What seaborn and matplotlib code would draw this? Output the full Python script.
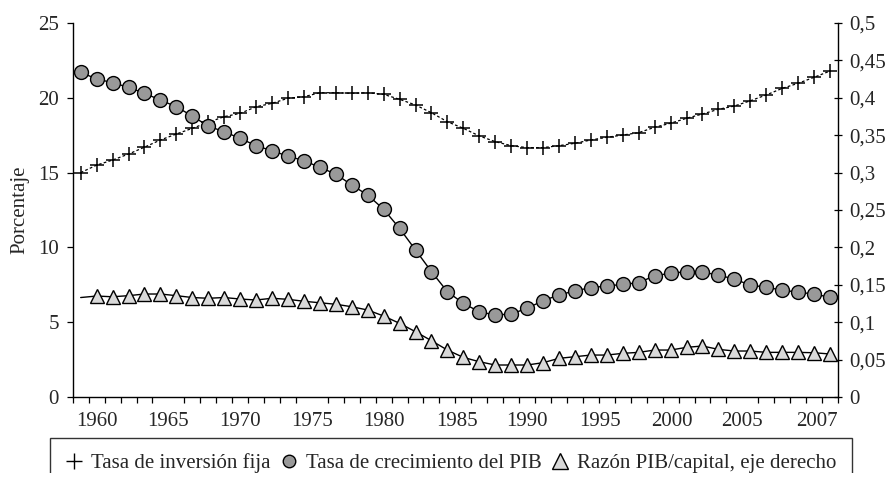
import numpy as np
import matplotlib
matplotlib.use("Agg")
import matplotlib.pyplot as plt
from matplotlib.lines import Line2D
from matplotlib.patches import Rectangle
import seaborn as sns

# Series (one value per category, 48 points)
inversion = [15.0, 15.5, 15.84, 16.24, 16.7, 17.18, 17.58, 17.96, 18.36, 18.74,
             18.96, 19.4, 19.63, 19.97, 20.07, 20.34, 20.34, 20.3, 20.34, 20.23,
             19.9, 19.52, 19.0, 18.4, 17.96, 17.45, 17.07, 16.8, 16.67, 16.67,
             16.8, 16.96, 17.18, 17.36, 17.51, 17.67, 18.03, 18.3, 18.63, 18.92,
             19.23, 19.45, 19.8, 20.19, 20.63, 20.97, 21.37, 21.79]
crecimiento = [21.7, 21.26, 21.01, 20.7, 20.3, 19.85, 19.4, 18.78, 18.11, 17.73,
               17.29, 16.8, 16.46, 16.1, 15.8, 15.35, 14.9, 14.17, 13.5, 12.55,
               11.27, 9.83, 8.38, 7.04, 6.26, 5.7, 5.48, 5.55, 5.93, 6.44,
               6.82, 7.1, 7.31, 7.42, 7.53, 7.64, 8.11, 8.27, 8.38, 8.34,
               8.16, 7.87, 7.49, 7.33, 7.15, 7.0, 6.89, 6.66]
razon = [0.133, 0.135, 0.134, 0.1355, 0.1377, 0.1377, 0.1355, 0.133, 0.132, 0.133,
         0.131, 0.1297, 0.132, 0.1306, 0.128, 0.126, 0.124, 0.1207, 0.1163, 0.1083,
         0.0985, 0.0873, 0.0753, 0.0628, 0.053, 0.0472, 0.0428, 0.0428, 0.0428, 0.0459,
         0.0517, 0.0539, 0.0561, 0.0561, 0.0584, 0.0597, 0.0628, 0.0628, 0.0664, 0.0682,
         0.0637, 0.0615, 0.0615, 0.0597, 0.0597, 0.0597, 0.0592, 0.0575]

year_labels = ["1960", "1965", "1970", "1975", "1980", "1985",
               "1990", "1995", "2000", "2005", "2007"]
label_pos = [1, 5.5, 10, 14.5, 19, 23.6, 28, 32.6, 37.1, 41.5, 46.2]

left_ticks = [0, 5, 10, 15, 20, 25]
right_ticks = [0, 0.05, 0.1, 0.15, 0.2, 0.25, 0.3, 0.35, 0.4, 0.45, 0.5]
right_labels = ["0", "0,05", "0,1", "0,15", "0,2", "0,25", "0,3", "0,35", "0,4", "0,45", "0,5"]

legend_labels = ["Tasa de inversión fija", "Tasa de crecimiento del PIB",
                 "Razón PIB/capital, eje derecho"]

sns.set_theme(style="ticks")
plt.rcParams["font.family"] = ["Liberation Serif", "DejaVu Serif"]
FS = 15

x = np.arange(len(inversion))

fig = plt.figure(figsize=(8.88, 4.82), dpi=100)
ax = fig.add_axes([0.0819, 0.1763, 0.8618, 0.776])
ax2 = ax.twinx()

circle_gray = "#999999"
tri_gray = "#d9d9d9"

sns.lineplot(x=x, y=inversion, ax=ax, color="black", linewidth=0.9,
             linestyle=(0, (2.2, 1.8)), marker="+", markersize=9.5,
             markeredgecolor="black", markeredgewidth=1.1)
sns.lineplot(x=x, y=crecimiento, ax=ax, color="black", linewidth=1.0,
             marker="o", markersize=10, markerfacecolor=circle_gray,
             markeredgecolor="black", markeredgewidth=1.0)
sns.lineplot(x=x, y=razon, ax=ax2, color="black", linewidth=1.0,
             marker="^", markersize=10, markerfacecolor=tri_gray,
             markeredgecolor="black", markeredgewidth=1.0,
             markevery=list(range(1, len(razon))))

ax.set_xlim(-0.5, len(inversion) - 0.5)
ax.set_ylim(0, 25)
ax2.set_ylim(0, 0.5)

ax.set_yticks(left_ticks)
ax.set_yticklabels([str(t) for t in left_ticks], fontsize=FS)
ax2.set_yticks(right_ticks)
ax2.set_yticklabels(right_labels, fontsize=FS)

ax.set_xticks(label_pos)
ax.set_xticklabels(year_labels, fontsize=FS)
ax.set_xticks(np.arange(-0.5, len(inversion), 1), minor=True)
ax.tick_params(axis="x", which="major", length=0, pad=11)
ax.tick_params(axis="x", which="minor", length=4, width=0.9, direction="out", color="black")
ax.tick_params(axis="y", length=4, width=0.9, direction="out", color="black", pad=6)
ax2.tick_params(axis="y", length=6, width=0.9, direction="inout", color="black", pad=5)

ax.set_ylabel("Porcentaje", fontsize=FS, labelpad=6)
ax.set_xlabel("")

for side in ["top", "right"]:
    ax.spines[side].set_visible(False)
for side in ["top", "left", "bottom"]:
    ax2.spines[side].set_visible(False)
for sp in [ax.spines["left"], ax.spines["bottom"], ax2.spines["right"]]:
    sp.set_color("black")
    sp.set_linewidth(1.0)

handles = [
    Line2D([], [], linestyle="none", marker="+", markersize=12, markeredgewidth=1.0,
           color="black"),
    Line2D([], [], linestyle="none", marker="o", markersize=9,
           markerfacecolor=circle_gray, markeredgecolor="black"),
    Line2D([], [], linestyle="none", marker="^", markersize=11,
           markerfacecolor=tri_gray, markeredgecolor="black"),
]
leg = fig.legend(handles, legend_labels, loc="upper center",
                 bbox_to_anchor=(0.508, 1 - 437.5 / 482), ncol=3, frameon=True,
                 fancybox=False, edgecolor="black", fontsize=FS,
                 handlelength=0.8, handletextpad=0.4, columnspacing=0.5,
                 borderpad=0.75, borderaxespad=0)
leg.get_frame().set_linewidth(1.0)

# blank strip at the very bottom, the legend box runs off the page there
fig.add_artist(Rectangle((0, 0), 1, 9 / 482, transform=fig.transFigure,
                         facecolor="white", edgecolor="none", zorder=10))

fig.savefig("out.png", dpi=100)
plt.close(fig)
